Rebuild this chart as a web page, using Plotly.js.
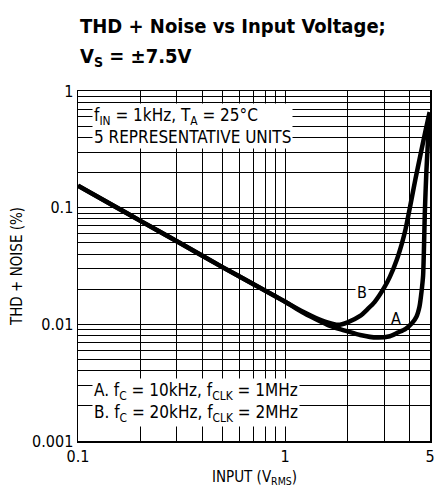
<!DOCTYPE html>
<html>
<head>
<meta charset="utf-8">
<script src="https://cdn.plot.ly/plotly-3.0.1.min.js"></script>
<style>html,body{margin:0;padding:0;background:#fff;}#chart{width:435px;height:487px;}</style>
</head>
<body>
<div id="chart"></div>
<script>
// Curve A: fC = 10kHz, fCLK = 1MHz
const xA = [0.1, 0.15, 0.2, 0.3, 0.5, 0.7, 1.0, 1.2, 1.4, 1.6, 1.8, 2.0, 2.3, 2.77, 3.2, 3.5, 3.8, 4.09, 4.3, 4.45, 4.55, 4.63, 4.68, 4.72, 4.8, 4.9, 4.98];
const yA = [0.154, 0.103, 0.077, 0.0515, 0.0308, 0.0222, 0.0156, 0.0128, 0.0111, 0.0099, 0.0092, 0.0087, 0.0081, 0.0077, 0.0079, 0.0085, 0.0091, 0.0102, 0.0116, 0.0142, 0.019, 0.026, 0.048, 0.09, 0.2, 0.4, 0.64];
// Curve B: fC = 20kHz, fCLK = 2MHz
const xB = [0.1, 0.15, 0.2, 0.3, 0.5, 0.7, 1.0, 1.2, 1.4, 1.6, 1.8, 2.0, 2.3, 2.5, 2.7, 3.0, 3.2, 3.46, 3.66, 3.8, 4.02, 4.25, 4.49, 4.75, 4.98];
const yB = [0.154, 0.103, 0.077, 0.0515, 0.0308, 0.0222, 0.0156, 0.013, 0.0114, 0.0104, 0.0099, 0.0104, 0.0118, 0.0135, 0.0155, 0.0205, 0.0255, 0.036, 0.0495, 0.064, 0.105, 0.175, 0.28, 0.45, 0.66];

const xTickVals = [0.1, 0.2, 0.3, 0.4, 0.5, 0.6, 0.7, 0.8, 0.9, 1, 2, 3, 4, 5];
const xTickText = ['0.1', '', '', '', '', '', '', '', '', '1', '', '', '', '5'];
const yTickVals = [0.001, 0.002, 0.003, 0.004, 0.005, 0.006, 0.007, 0.008, 0.009,
                   0.01, 0.02, 0.03, 0.04, 0.05, 0.06, 0.07, 0.08, 0.09,
                   0.1, 0.2, 0.3, 0.4, 0.5, 0.6, 0.7, 0.8, 0.9, 1];
const yTickText = ['0.001', '', '', '', '', '', '', '', '',
                   '0.01', '', '', '', '', '', '', '', '',
                   '0.1', '', '', '', '', '', '', '', '', '1'];

const FONT = '"Liberation Sans Narrow", "DejaVu Sans Condensed", "Arial Narrow", sans-serif';

const traces = [
  {x: xA, y: yA, mode: 'lines', line: {color: '#000', width: 4.5, shape: 'spline', smoothing: 0.6}, hoverinfo: 'skip', name: 'A'},
  {x: xB, y: yB, mode: 'lines', line: {color: '#000', width: 4.5, shape: 'spline', smoothing: 0.6}, hoverinfo: 'skip', name: 'B'}
];

const layout = {
  width: 435, height: 487,
  margin: {l: 78, r: 5, t: 91, b: 46},
  paper_bgcolor: '#fff', plot_bgcolor: '#fff',
  showlegend: false,
  font: {family: FONT, color: '#000', size: 16},
  xaxis: {
    type: 'log', range: [Math.log10(0.1), Math.log10(5)],
    tickmode: 'array', tickvals: xTickVals, ticktext: xTickText,
    ticks: '', showgrid: true, gridcolor: '#000', gridwidth: 1,
    showline: true, linecolor: '#000', linewidth: 1.5, mirror: true,
    zeroline: false, tickfont: {size: 16}
  },
  yaxis: {
    type: 'log', range: [-3, 0],
    tickmode: 'array', tickvals: yTickVals, ticktext: yTickText,
    ticks: '', showgrid: true, gridcolor: '#000', gridwidth: 1,
    showline: true, linecolor: '#000', linewidth: 1.5, mirror: true,
    zeroline: false, tickfont: {size: 16},
    title: {text: 'THD + NOISE (%)', font: {size: 15}, standoff: 6}
  },
  annotations: [
    {xref: 'paper', yref: 'paper', x: 0, y: (441 - 26) / 350, xanchor: 'left', yanchor: 'middle',
     text: '<b>THD + Noise vs Input Voltage;</b>', showarrow: false, font: {size: 20}},
    {xref: 'paper', yref: 'paper', x: 0, y: (441 - 57) / 350, xanchor: 'left', yanchor: 'middle',
     text: '<b>V<sub>S</sub> = ±7.5V</b>', showarrow: false, font: {size: 20}},
    {xref: 'paper', yref: 'paper', x: 0.5, y: (441 - 466) / 350, xanchor: 'center', yanchor: 'top',
     text: 'INPUT (V<sub>RMS</sub>)', showarrow: false, font: {size: 15}},
    {xref: 'paper', yref: 'paper', x: 14/352, y: 1 - 12/350, xanchor: 'left', yanchor: 'top', align: 'left',
     text: 'f<sub>IN</sub> = 1kHz, T<sub>A</sub> = 25°C<br>5 REPRESENTATIVE UNITS',
     showarrow: false, bgcolor: '#fff', borderpad: 1, font: {size: 17}},
    {xref: 'paper', yref: 'paper', x: 14/352, y: 14/350, xanchor: 'left', yanchor: 'bottom', align: 'left',
     text: 'A. f<sub>C</sub> = 10kHz, f<sub>CLK</sub> = 1MHz<br>B. f<sub>C</sub> = 20kHz, f<sub>CLK</sub> = 2MHz',
     showarrow: false, bgcolor: '#fff', borderpad: 1, font: {size: 17}},
    {xref: 'x', yref: 'y', x: Math.log10(2.36), y: Math.log10(0.0186), text: 'B', showarrow: false,
     bgcolor: '#fff', borderpad: 1, font: {size: 16}},
    {xref: 'x', yref: 'y', x: Math.log10(3.41), y: Math.log10(0.0113), text: 'A', showarrow: false,
     font: {size: 16}}
  ]
};

Plotly.newPlot('chart', traces, layout, {staticPlot: true, displayModeBar: false});
</script>
</body>
</html>
